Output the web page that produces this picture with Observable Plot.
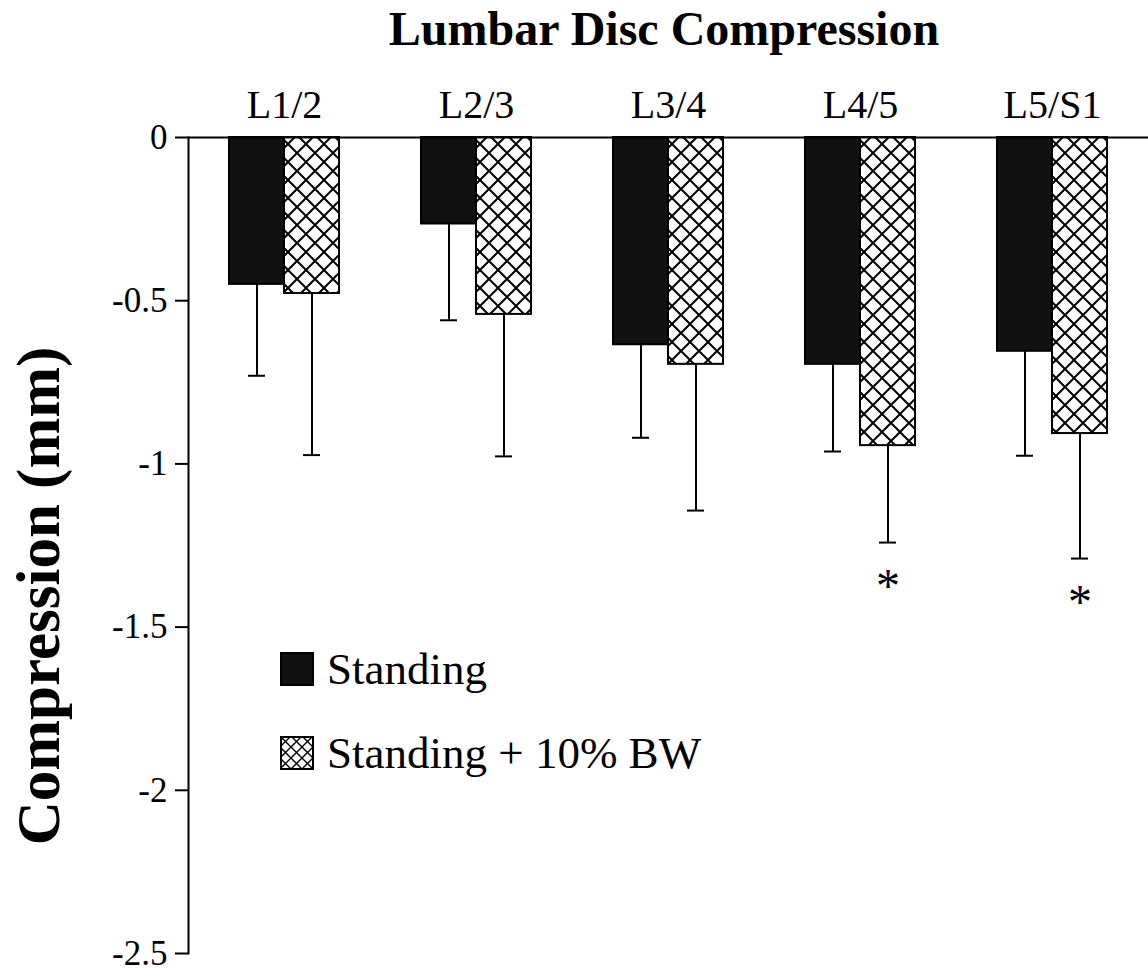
<!DOCTYPE html>
<html>
<head>
<meta charset="utf-8">
<script src="https://cdn.jsdelivr.net/npm/d3@7"></script>
<script src="https://cdn.jsdelivr.net/npm/@observablehq/plot@0.6"></script>
<style>
  body { margin: 0; background: #fff; }
  #wrap { position: relative; width: 1148px; height: 973px; font-family: "Liberation Serif", "Times New Roman", serif; color: #000; overflow: hidden; }
  #title { position: absolute; left: 184px; width: 960px; top: 5px; text-align: center; font-weight: bold; font-size: 48px; line-height: 48px; }
  #chart { position: absolute; left: 0; top: 0; }
  #ylabel { position: absolute; left: 38px; top: 596px; transform: translate(-50%, -50%) rotate(-90deg); font-weight: bold; font-size: 61px; line-height: 61px; white-space: nowrap; }
  #legend { position: absolute; left: 280px; top: 652px; font-size: 45px; }
  #legend .row { display: flex; align-items: center; height: 34px; margin-bottom: 50px; white-space: nowrap; }
  #legend svg { margin-right: 13px; flex: none; }
  #chart svg line { stroke-width: 2px; }
  #chart g[aria-label="y-axis tick"] { stroke-width: 2px; }
  #chart g[aria-label="fx-axis tick label"] { font-size: 40px; }
</style>
</head>
<body>
<div id="wrap">
  <div id="chart"></div>
  <div id="title">Lumbar Disc Compression</div>
  <div id="ylabel">Compression (mm)</div>
  <div id="legend"></div>
</div>
<script>
// ---- data ----
const categories = ["L1/2", "L2/3", "L3/4", "L4/5", "L5/S1"];
const series = ["Standing", "Standing + 10% BW"];
const standingMean = [-0.45, -0.265, -0.635, -0.695, -0.655];
const standingSD = [0.28, 0.295, 0.285, 0.267, 0.32];
const loadedMean = [-0.478, -0.542, -0.695, -0.944, -0.907];
const loadedSD = [0.495, 0.435, 0.448, 0.297, 0.383];
const significant = [false, false, false, true, true];
const yTicks = [0, -0.5, -1, -1.5, -2, -2.5];

const data = [];
categories.forEach((c, i) => {
  data.push({level: c, series: series[0], mean: standingMean[i], sd: standingSD[i], sig: false});
  data.push({level: c, series: series[1], mean: loadedMean[i], sd: loadedSD[i], sig: significant[i]});
});

const chart = Plot.plot({
  width: 1148,
  height: 973,
  marginTop: 137,
  marginBottom: 20,
  marginLeft: 188,
  marginRight: 0,
  style: {fontFamily: "Liberation Serif, Times New Roman, serif", fontSize: "35px", color: "#000", background: "transparent", overflow: "visible"},
  fx: {domain: categories, axis: "top", label: null, tickSize: 0, tickPadding: 20, padding: 0},
  x: {domain: series, axis: null, paddingInner: 0, paddingOuter: 0.745},
  y: {domain: [-2.5, 0], ticks: yTicks, tickFormat: d => String(d), tickSize: 13, tickPadding: 8, line: true, label: null},
  color: {domain: series, range: ["#111", "url(#hatch)"]},
  marks: [
    Plot.barY(data, {fx: "level", x: "series", y: "mean", fill: "series", stroke: "#000", strokeWidth: 2}),
    Plot.ruleX(data, {fx: "level", x: "series", y1: "mean", y2: d => d.mean - d.sd, stroke: "#000", strokeWidth: 2}),
    Plot.tickY(data, {fx: "level", x: "series", y: d => d.mean - d.sd, stroke: "#000", strokeWidth: 2.5, insetLeft: 19, insetRight: 19}),
    Plot.text(data.filter(d => d.sig), {fx: "level", x: "series", y: d => d.mean - d.sd, text: () => "*", dy: 44, fontSize: 48}),
    Plot.ruleY([0], {stroke: "#000", strokeWidth: 2})
  ]
});

const hatchDefs = (id, size, w) => `<defs><pattern id="${id}" patternUnits="userSpaceOnUse" width="${size}" height="${size}">
  <rect width="${size}" height="${size}" fill="#fff"/>
  <path d="M0,0L${size},${size}M${size},0L0,${size}" style="stroke:#000;stroke-width:${w};fill:none"/>
</pattern></defs>`;

chart.insertAdjacentHTML("afterbegin", hatchDefs("hatch", 18, 2));
document.getElementById("chart").appendChild(chart);

// legend built from series
const legend = document.getElementById("legend");
series.forEach((s, i) => {
  const row = document.createElement("div");
  row.className = "row";
  const fill = i === 0 ? "#111" : "url(#hatchL)";
  row.innerHTML = `<svg width="34" height="34">${i === 1 ? hatchDefs("hatchL", 11, 1.4) : ""}<rect x="1" y="1" width="32" height="32" fill="${fill}" stroke="#000" stroke-width="2"/></svg><span>${s}</span>`;
  legend.appendChild(row);
});
</script>
</body>
</html>
